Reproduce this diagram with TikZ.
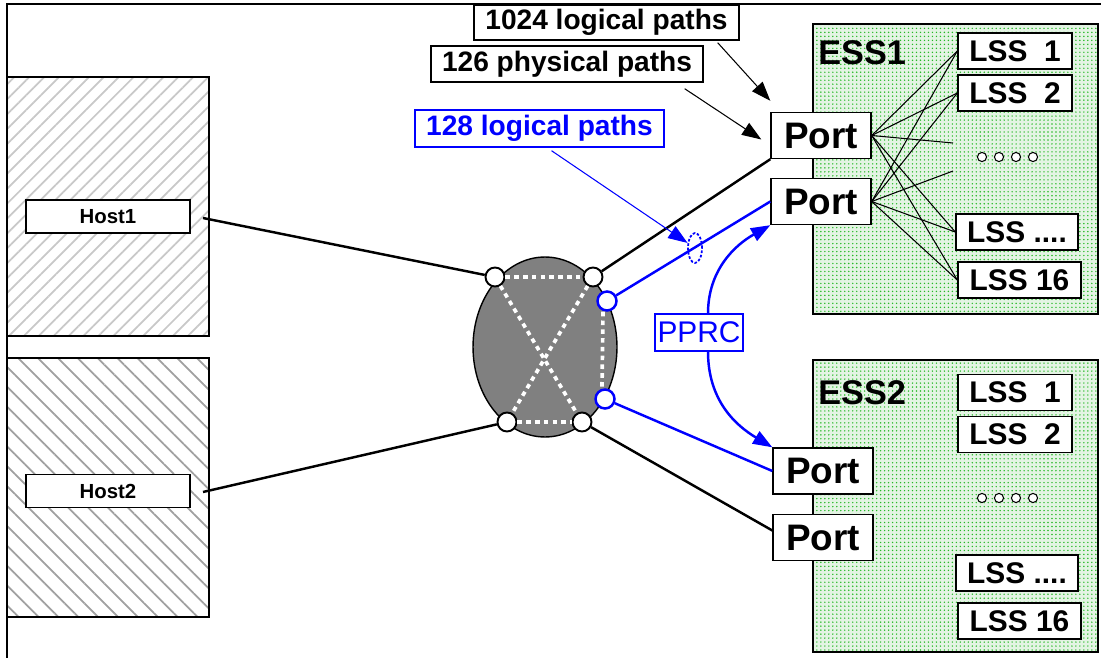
\documentclass[tikz,border=0pt]{standalone}
\usepackage{fontspec}
\setmainfont{Liberation Sans}
\usetikzlibrary{arrows.meta,positioning,calc,shapes.geometric,patterns.meta}
\definecolor{pblue}{RGB}{0,0,255}
\definecolor{essgreen}{RGB}{40,185,40}
\definecolor{essback}{RGB}{228,244,228}
\definecolor{hatchlight}{RGB}{200,200,200}
\definecolor{hatchdark}{RGB}{160,160,160}
\definecolor{switchgray}{RGB}{128,128,128}

\begin{document}
\begin{tikzpicture}[x=0.02cm, y=-0.02cm,
    box/.style={draw, fill=white, line width=0.8pt, inner sep=0pt},
    portbox/.style={box, minimum width=2cm, minimum height=0.92cm, font=\fontsize{21}{21}\selectfont\bfseries},
    lssbox/.style={box, minimum height=0.72cm, font=\fontsize{17}{17}\selectfont\bfseries},
    callout/.style={box, minimum height=0.7cm, font=\fontsize{16}{16}\selectfont\bfseries},
    hostlbl/.style={box, minimum width=3.28cm, minimum height=0.66cm, font=\fontsize{11.6}{12}\selectfont\bfseries},
    esslbl/.style={anchor=base west, inner sep=0pt, font=\fontsize{19.5}{20}\selectfont\bfseries},
    joint/.style={circle, draw, fill=white, line width=1.1pt, minimum size=0.38cm, inner sep=0pt},
    bjoint/.style={joint, draw=pblue, line width=1.4pt},
    link/.style={line width=1.4pt},
    blink/.style={link, pblue},
    fan/.style={line width=0.6pt},
    xdash/.style={white, line width=2.1pt, dash pattern=on 2.6pt off 2.4pt},
    bigtip/.style={-{Triangle[length=11pt,width=8pt]}},
    essbox/.style={draw, line width=0.8pt, preaction={fill=essback},
      pattern={Dots[distance=2.268pt, radius=0.45pt]}, pattern color=essgreen}
  ]
  \useasboundingbox (0,0) rectangle (1101,658);
  \draw[line width=0.8pt] (7,658) -- (7,4) -- (1101,4);

  % hosts
  \draw[line width=0.8pt, pattern={Lines[angle=45, distance=6pt, line width=1pt]},
        pattern color=hatchlight] (7,77) rectangle (209,336);
  \draw[line width=0.8pt, pattern={Lines[angle=-45, distance=8pt, line width=1pt]},
        pattern color=hatchdark] (7,358) rectangle (209,617);
  \node[hostlbl] (host1) at (108,216.5) {Host1};
  \node[hostlbl] (host2) at (108,491) {Host2};
  \coordinate (h1out) at (203,218);
  \coordinate (h2out) at (203,492);

  % storage boxes
  \draw[essbox] (813,24) rectangle (1098,314);
  \draw[essbox] (813,360) rectangle (1098,652);
  \node[esslbl] (ess1) at (818,65) {ESS1};
  \node[esslbl] (ess2) at (818,404) {ESS2};

  \node[lssbox, minimum width=2.28cm] (lss1a) at (1015,51) {LSS\ \ 1};
  \node[lssbox, minimum width=2.28cm] (lss2a) at (1015,93) {LSS\ \ 2};
  \node[lssbox, minimum width=2.44cm] (lssxa) at (1017,232) {LSS ....};
  \node[lssbox, minimum width=2.46cm] (lss16a) at (1019.5,280) {LSS 16};
  \node[lssbox, minimum width=2.28cm] (lss1b) at (1015,392.5) {LSS\ \ 1};
  \node[lssbox, minimum width=2.28cm] (lss2b) at (1015,434.5) {LSS\ \ 2};
  \node[lssbox, minimum width=2.44cm] (lssxb) at (1017,573) {LSS ....};
  \node[lssbox, minimum width=2.46cm] (lss16b) at (1019.5,621) {LSS 16};
  \foreach \i in {0,...,3}{
    \draw[line width=0.6pt, fill=white] (982+\i*17,157) circle[radius=2.6pt];
    \draw[line width=0.6pt, fill=white] (982+\i*17,498) circle[radius=2.6pt];}

  \node[portbox] (port1) at (821,135.5) {Port};
  \node[portbox] (port2) at (821,201.5) {Port};
  \node[portbox] (port3) at (823,471) {Port};
  \node[portbox] (port4) at (823,537.5) {Port};

  \coordinate (stub1) at (953,143);
  \coordinate (stub2) at (953,171);
  \foreach \p in {port1,port2}{
    \foreach \l in {lss1a,lss2a,lssxa,lss16a}
      \draw[fan] (\p.east) -- (\l.west);}
  \draw[fan] (port1.east) -- (stub1);
  \draw[fan] (port2.east) -- (stub2);

  % switch
  \node[ellipse, draw, fill=switchgray, line width=0.8pt, minimum width=2.88cm,
        minimum height=3.6cm] (switch) at (545,347) {};
  \node[joint] (tl) at (495,277) {};
  \node[joint] (tr) at (593,277) {};
  \node[joint] (bl) at (507,422) {};
  \node[joint] (br) at (582,422) {};
  \node[bjoint] (bu) at (607,301) {};
  \node[bjoint] (bd) at (605,399) {};
  \draw[xdash] (tl) -- (tr);
  \draw[xdash] (bl) -- (br);
  \draw[xdash] (tl) -- (br);
  \draw[xdash] (tr) -- (bl);
  \draw[xdash] ($(bu.south)+(-4,0)$) -- ($(bd.north)+(-3,0)$);

  \draw[link] (h1out) -- (tl);
  \draw[link] (h2out) -- (bl);
  \draw[link] (tr) -- (port1.south west);
  \draw[blink] (bu) -- (port2.west);
  \draw[blink] (bd) -- (port3.west);
  \draw[link] (br) -- ($(port4.west)+(0,-7)$);

  % path counts
  \node[callout, minimum width=5.3cm] (log1024) at (606.5,22.5) {1024 logical paths};
  \node[callout, minimum width=5.44cm, minimum height=0.72cm] (phys126) at (567,64) {126 physical paths};
  \node[callout, draw=pblue, text=pblue, minimum width=4.98cm, minimum height=0.74cm]
       (log128) at (539.5,128.5) {128 logical paths};
  \node[ellipse, draw=pblue, line width=1pt, dash pattern=on 1.5pt off 1pt,
        minimum width=0.28cm, minimum height=0.6cm, inner sep=0pt] (bundle) at (695,248) {};
  \draw[bigtip, line width=0.6pt] ($(log1024.south east)+(-22,2)$) -- ($(port1.north west)+(0,-11)$);
  \draw[bigtip, line width=0.6pt] ($(phys126.south east)+(-19,6)$) -- ($(port1.west)+(-9,4)$);
  \draw[bigtip, pblue, line width=0.6pt] ($(log128.south)+(12,3)$) -- (bundle);

  % mirroring
  \node[box, draw=pblue, text=pblue, line width=0.6pt, minimum width=1.76cm, minimum height=0.74cm,
        font=\fontsize{17}{17}\selectfont] (pprc) at (699,332.5) {PPRC};
  \draw[blink, bigtip] ($(pprc.north)+(9,0)$) .. controls (708,270) and (735,245) .. (port2.south west);
  \draw[blink, bigtip] ($(pprc.south)+(9,0)$) .. controls (708,400) and (735,425) .. (port3.north west);
\end{tikzpicture}
\end{document}
